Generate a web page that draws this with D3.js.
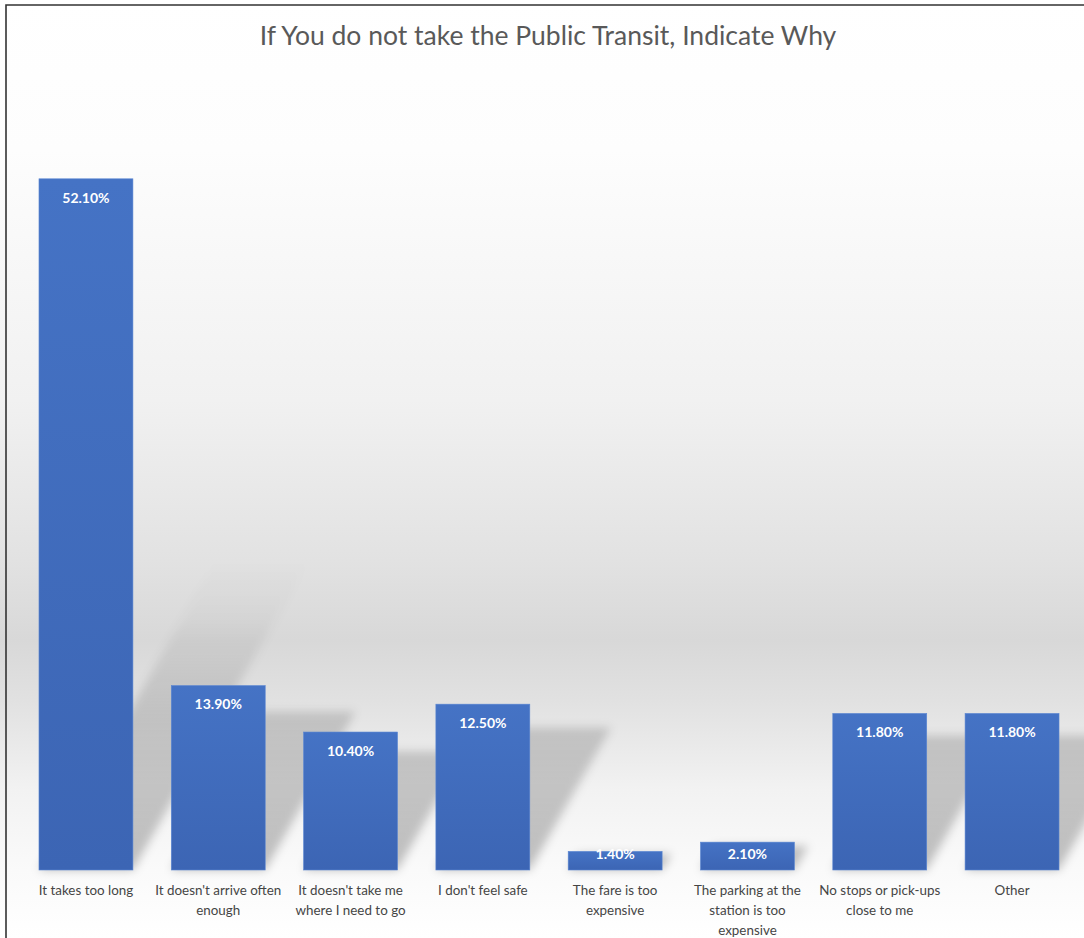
<!DOCTYPE html>
<html>
<head>
<meta charset="utf-8">
<script src="https://cdn.jsdelivr.net/npm/d3@7/dist/d3.min.js"></script>
<style>
  html, body { margin: 0; padding: 0; background: #ffffff; }
  svg { display: block; }
</style>
</head>
<body>
<svg id="chart" width="1084" height="938"></svg>
<script>
// Survey: reasons for not using public transit
const title = "If You do not take the Public Transit, Indicate Why";
const categories = [
  "It takes too long",
  "It doesn't arrive often\nenough",
  "It doesn't take me\nwhere I need to go",
  "I don't feel safe",
  "The fare is too\nexpensive",
  "The parking at the\nstation is too\nexpensive",
  "No stops or pick-ups\nclose to me",
  "Other"
];
const values = [52.1, 13.9, 10.4, 12.5, 1.4, 2.1, 11.8, 11.8];
const valueLabels = ["52.10%", "13.90%", "10.40%", "12.50%", "1.40%", "2.10%", "11.80%", "11.80%"];

const W = 1084, H = 938;
const baseY = 870;
const svg = d3.select("#chart");
const defs = svg.append("defs");

// Chart-area background: white fading to grey near the floor and back to white
const bg = defs.append("linearGradient")
  .attr("id", "bgGrad").attr("gradientUnits", "userSpaceOnUse")
  .attr("x1", 0).attr("y1", 0).attr("x2", 0).attr("y2", H);
[[0, "#ffffff"], [150, "#fdfdfd"], [400, "#f1f1f1"], [560, "#e2e2e2"],
 [640, "#d8d8d8"], [700, "#e1e1e1"], [790, "#f2f2f2"], [870, "#fafafa"], [938, "#ffffff"]]
  .forEach(([y, c]) => bg.append("stop").attr("offset", y / H).attr("stop-color", c));

// Bar fill
const barGrad = defs.append("linearGradient")
  .attr("id", "barGrad").attr("x1", 0).attr("y1", 0).attr("x2", 0).attr("y2", 1);
barGrad.append("stop").attr("offset", 0).attr("stop-color", "#4573c5");
barGrad.append("stop").attr("offset", 1).attr("stop-color", "#3c65b4");

// Shadow opacity fades quickly with height above the floor
const shGrad = defs.append("linearGradient")
  .attr("id", "shGrad").attr("gradientUnits", "userSpaceOnUse")
  .attr("x1", 0).attr("y1", baseY).attr("x2", 0).attr("y2", 560);
shGrad.append("stop").attr("offset", 0).attr("stop-color", "#000").attr("stop-opacity", 0.24);
shGrad.append("stop").attr("offset", 0.5).attr("stop-color", "#000").attr("stop-opacity", 0.15);
shGrad.append("stop").attr("offset", 0.8).attr("stop-color", "#000").attr("stop-opacity", 0.03);
shGrad.append("stop").attr("offset", 1).attr("stop-color", "#000").attr("stop-opacity", 0);

const blur = defs.append("filter").attr("id", "shBlur")
  .attr("x", "-30%").attr("y", "-30%").attr("width", "160%").attr("height", "160%");
blur.append("feGaussianBlur").attr("stdDeviation", 5);

svg.append("rect").attr("x", 0).attr("y", 0).attr("width", W).attr("height", H)
  .attr("fill", "url(#bgGrad)");

// Scales
const x = d3.scaleBand()
  .domain(categories)
  .range([19.8, 1078.2])
  .paddingInner(0.29)
  .paddingOuter(0.145);
const y = d3.scaleLinear().domain([0, 60]).range([baseY, 74]);

const data = categories.map((c, i) => ({ cat: c, v: values[i], label: valueLabels[i] }));

// Perspective shadows cast up and to the right
const shScale = 0.86, shSkew = 0.57;
svg.append("g").attr("filter", "url(#shBlur)")
  .selectAll("path").data(data).join("path")
  .attr("fill", "url(#shGrad)")
  .attr("d", d => {
    const x0 = x(d.cat), x1 = x0 + x.bandwidth();
    const h = (baseY - y(d.v)) * shScale;
    const dx = h * shSkew;
    return `M${x0},${baseY}L${x1},${baseY}L${x1 + dx},${baseY - h}L${x0 + dx},${baseY - h}Z`;
  });

// Bars
svg.append("g").selectAll("rect").data(data).join("rect")
  .attr("x", d => x(d.cat))
  .attr("y", d => y(d.v))
  .attr("width", x.bandwidth())
  .attr("height", d => baseY - y(d.v))
  .attr("fill", "url(#barGrad)")
  .attr("stroke", "#5a86d2").attr("stroke-width", 0.6);

// Value labels inside the bar ends
svg.append("g").selectAll("text").data(data).join("text")
  .attr("x", d => x(d.cat) + x.bandwidth() / 2)
  .attr("y", d => Math.min(y(d.v) + 19, baseY - 16))
  .attr("dy", "0.35em")
  .attr("text-anchor", "middle")
  .attr("font-family", "Lato, 'Open Sans', sans-serif")
  .attr("font-weight", "bold")
  .attr("font-size", 14)
  .attr("fill", "#ffffff")
  .text(d => d.label);

// Category axis labels
const xAxis = d3.axisBottom(x).tickSize(0).tickPadding(0).tickFormat(() => "");
const axisG = svg.append("g").attr("transform", `translate(0,${baseY})`).call(xAxis);
axisG.select(".domain").remove();
axisG.selectAll(".tick").each(function(d) {
  const lines = d.split("\n");
  const t = d3.select(this).append("text")
    .attr("text-anchor", "middle")
    .attr("font-family", "Lato, 'Open Sans', sans-serif")
    .attr("font-size", 13.4)
    .attr("fill", "#454545");
  lines.forEach((ln, i) => {
    t.append("tspan").attr("x", 0).attr("y", 25 + i * 20).text(ln);
  });
});

// Title
svg.append("text")
  .attr("x", 548).attr("y", 45)
  .attr("text-anchor", "middle")
  .attr("font-family", "Lato, 'Open Sans', sans-serif")
  .attr("font-size", 26.5)
  .attr("fill", "#595959")
  .text(title);

// Frame lines on the top and left
svg.append("path")
  .attr("d", `M6,${H}L6,5L${W},5`)
  .attr("fill", "none")
  .attr("stroke", "#333333")
  .attr("stroke-width", 1.6);
</script>
</body>
</html>
